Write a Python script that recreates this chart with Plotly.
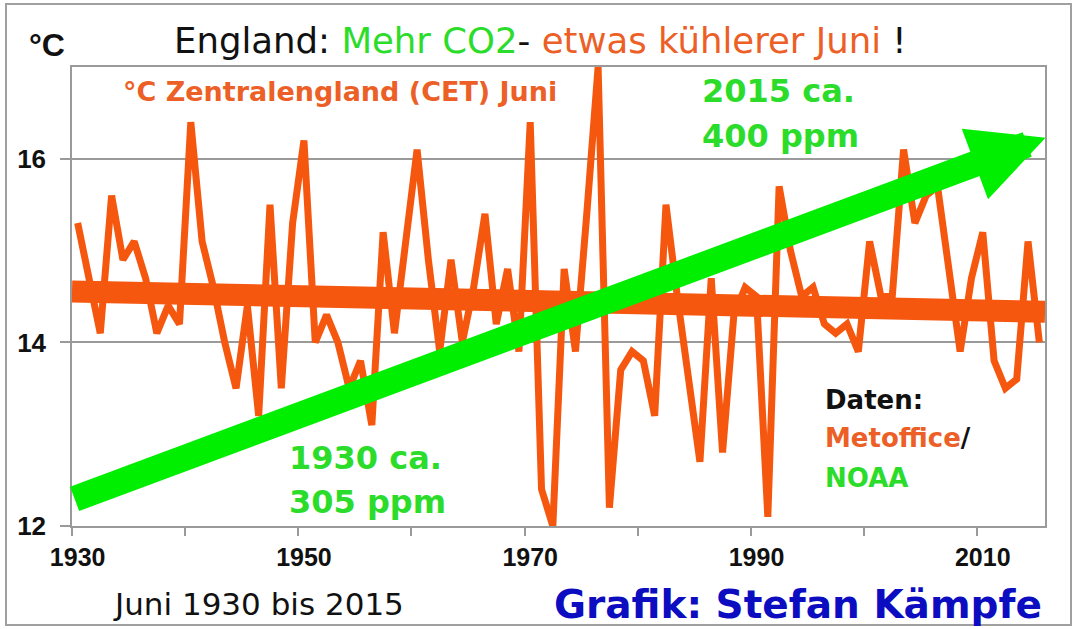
import numpy as np
import plotly.graph_objects as go

# ---------------- data ----------------
years = list(range(1930, 2016))
june_temp = [
    15.3, 14.7, 14.1, 15.6, 14.9, 15.1, 14.7, 14.1, 14.4, 14.2,   # 1930-1939
    16.4, 15.1, 14.6, 14.0, 13.5, 14.4, 13.2, 15.5, 13.5, 15.3,   # 1940-1949
    16.2, 14.0, 14.3, 14.0, 13.5, 13.8, 13.1, 15.2, 14.1, 15.1,   # 1950-1959
    16.1, 14.9, 13.9, 14.9, 14.0, 14.6, 15.4, 14.2, 14.8, 13.9,   # 1960-1969
    16.4, 12.4, 12.0, 14.8, 13.9, 15.4, 17.0, 12.2, 13.7, 13.9,   # 1970-1979
    13.8, 13.2, 15.5, 14.5, 13.6, 12.7, 14.7, 12.8, 14.3, 14.6,   # 1980-1989
    14.5, 12.1, 15.7, 15.0, 14.5, 14.6, 14.2, 14.1, 14.2, 13.9,   # 1990-1999
    15.1, 14.5, 14.5, 16.1, 15.3, 15.6, 15.7, 14.8, 13.9, 14.7,   # 2000-2009
    15.2, 13.8, 13.5, 13.6, 15.1, 14.0,                           # 2010-2015
]
x_tick_years = [1930, 1950, 1970, 1990, 2010]
y_tick_vals = [12, 14, 16]
co2_start = (1929.6, 12.29)   # arrow (CO2 305 ppm -> 400 ppm), in axis units
co2_end = (2015.55, 16.23)

# ---------------- styling ----------------
ORANGE = "#f5570f"
ORANGE_TXT = "#ec5f26"
GREEN = "#00ee00"
GREEN_TXT = "#2bdc2b"
BLACK = "#111111"
BLUE = "#0c0cc0"
GRID = "#9a9a9a"

W, H = 1076, 629
L, R, T, B = 72, 31, 67, 103
PW, PH = W - L - R, H - T - B


def px(xp):
    return (xp - L) / PW


def py(yp):
    return (H - B - yp) / PH


x_arr = np.array(years, dtype=float)
y_arr = np.array(june_temp, dtype=float)
slope, intercept = np.polyfit(x_arr, y_arr, 1)
trend_x = [years[0] - 0.5, years[-1] + 0.5]
trend_y = [slope * v + intercept for v in trend_x]

fig = go.Figure()
fig.add_trace(go.Scatter(x=years, y=june_temp, mode="lines",
                         line=dict(color=ORANGE, width=7), hoverinfo="skip",
                         showlegend=False))
fig.add_trace(go.Scatter(x=trend_x, y=trend_y, mode="lines",
                         line=dict(color=ORANGE, width=22), hoverinfo="skip",
                         showlegend=False))

fig.update_layout(
    width=W, height=H,
    margin=dict(l=L, r=R, t=T, b=B),
    paper_bgcolor="white", plot_bgcolor="white",
    showlegend=False,
    xaxis=dict(
        range=[years[0] - 0.5, years[-1] + 0.5],
        tickmode="array", tickvals=x_tick_years,
        ticktext=[str(v) for v in x_tick_years],
        ticks="", showgrid=False, zeroline=False,
        showline=True, linecolor=GRID, linewidth=1.5, mirror=True,
        tickfont=dict(family="Liberation Sans", size=25, color=BLACK, weight="bold"),
        ticklabelstandoff=8,
        minor=dict(ticks="outside", ticklen=8, tickwidth=1.5, tickcolor=GRID,
                   tickmode="array",
                   tickvals=[v - 0.5 for v in range(years[0], years[-1] + 1, 10)],
                   showgrid=False),
    ),
    yaxis=dict(
        range=[12, 17], tickmode="array", tickvals=y_tick_vals,
        ticks="outside", ticklen=10, tickwidth=1.5, tickcolor=GRID,
        showgrid=True, gridcolor=GRID, gridwidth=1.5, zeroline=False,
        showline=True, linecolor=GRID, linewidth=1.5, mirror=True,
        tickfont=dict(family="Liberation Sans", size=26, color=BLACK, weight="bold"),
        ticklabelstandoff=9,
    ),
)

ann = []
# CO2 arrow
ann.append(dict(x=co2_end[0], y=co2_end[1], ax=co2_start[0], ay=co2_start[1],
                xref="x", yref="y", axref="x", ayref="y", text="",
                showarrow=True, arrowhead=2, arrowwidth=26, arrowsize=0.58,
                arrowcolor=GREEN, standoff=0))


def txt(x, y, s, size, color, family="DejaVu Sans", bold=True, xanchor="center"):
    ann.append(dict(x=px(x), y=py(y), xref="paper", yref="paper", text=s,
                    showarrow=False, xanchor=xanchor, yanchor="middle",
                    font=dict(family=family, size=size, color=color,
                              weight="bold" if bold else "normal")))


txt(540, 41,
    "England: <span style='color:%s'>Mehr CO2</span>- "
    "<span style='color:%s'>etwas kühlerer Juni</span> !" % (GREEN_TXT, ORANGE_TXT),
    35.5, BLACK, bold=False)
txt(47, 45, "°C", 32, BLACK, family="Liberation Sans")
txt(121, 91, "°C Zentralengland (CET) Juni", 27, ORANGE_TXT, xanchor="left")
txt(700, 91, "2015 ca.", 32, GREEN_TXT, xanchor="left")
txt(700, 136, "400 ppm", 32, GREEN_TXT, xanchor="left")
txt(287, 458, "1930 ca.", 32, GREEN_TXT, xanchor="left")
txt(287, 502, "305 ppm", 32, GREEN_TXT, xanchor="left")
txt(823, 400, "Daten:", 26, BLACK, xanchor="left")
txt(823, 438, "Metoffice<span style='color:%s'>/</span>" % BLACK, 26, ORANGE_TXT, xanchor="left")
txt(823, 478, "NOAA", 26, GREEN_TXT, xanchor="left")
txt(258, 604, "Juni 1930 bis 2015", 31, BLACK, bold=False)
txt(798, 604, "Grafik: Stefan Kämpfe", 39, BLUE)

fig.update_layout(annotations=ann)

# outer frame of the picture
fig.add_shape(type="rect", xref="paper", yref="paper",
              x0=px(6), x1=px(1071), y0=py(625), y1=py(4),
              line=dict(color="#a0a0a0", width=2), layer="below")

fig.write_html("out.html",
               config={"displayModeBar": False},
               post_script="document.body.style.margin='0';"
                           "document.body.style.overflow='hidden';")
